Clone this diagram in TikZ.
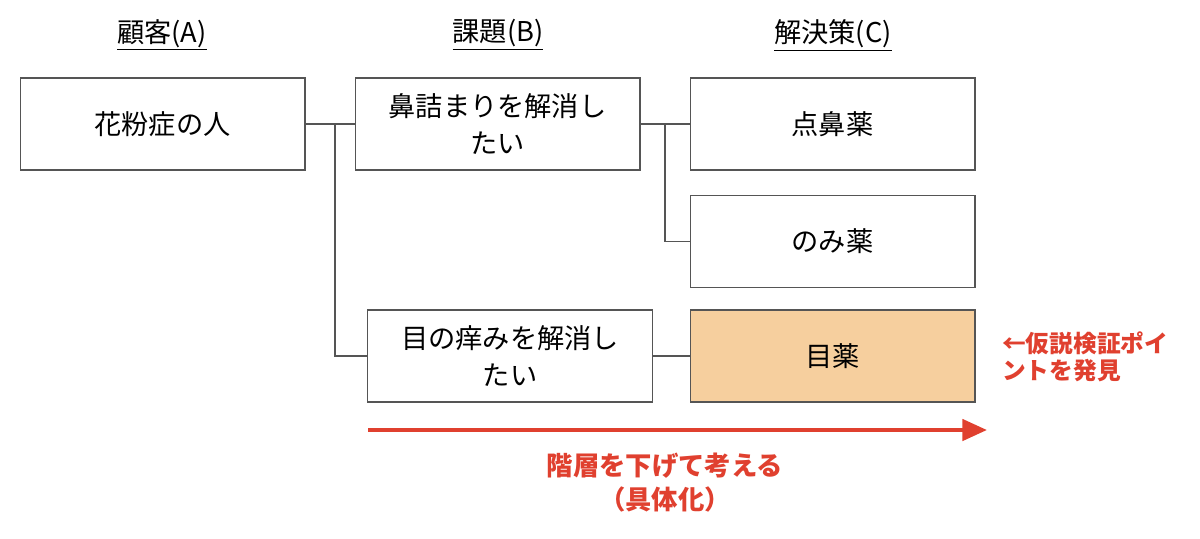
\documentclass[tikz,border=0pt]{standalone}
\usepackage{fontspec}
\setmainfont{Noto Sans CJK JP}
\usetikzlibrary{arrows.meta}
\definecolor{bx}{HTML}{555555}
\definecolor{rd}{HTML}{E0402F}
\definecolor{og}{HTML}{F6CF9E}
\begin{document}
\begin{tikzpicture}[x=0.02cm,y=-0.02cm,
 box/.style={draw=bx,line width=0.6pt,minimum width=5.7cm,minimum height=1.84cm,inner sep=0pt,align=center,font=\fontsize{15.5}{21}\selectfont},
 hd/.style={font=\fontsize{15.5}{18}\selectfont},
 ln/.style={draw=bx,line width=0.6pt},
 rt/.style={text=rd,font=\bfseries\fontsize{15}{19}\selectfont}]
\useasboundingbox (0,0) rectangle (1200,538);
\node[hd] (hA) at (162,35) {\underline{顧客(A)}};
\node[hd] (hB) at (498,35) {\underline{課題(B)}};
\node[hd] (hC) at (833,35) {\underline{解決策(C)}};
\node[box] (A) at (162.5,124) {花粉症の人};
\node[box] (B1) at (497.5,124) {鼻詰まりを解消し\\たい};
\node[box] (C1) at (832.5,124) {点鼻薬};
\node[box] (C2) at (832.5,241.5) {のみ薬};
\node[box] (B2) at (510,356) {目の痒みを解消し\\たい};
\node[box,fill=og] (C3) at (832.5,356) {目薬};
\coordinate (j1) at (335,124);
\coordinate (j2) at (665,124);
\draw[ln] (A.east) -- (B1.west);
\draw[ln] (j1) |- (B2.west);
\draw[ln] (B1.east) -- (C1.west);
\draw[ln] (j2) |- (C2.west);
\draw[ln] (B2.east) -- (C3.west);
\coordinate (a1) at (368,430);
\coordinate (a2) at (987,430);
\draw[rd,line width=2.4pt,-{Triangle[length=14pt,width=12pt]}] (a1) -- (a2);
\node[rt] (t1) at (665,466) {階層を下げて考える};
\node[rt] (t2) at (665,499) {（具体化）};
\node[rt,anchor=west,align=left,font=\bfseries\fontsize{13.5}{15.5}\selectfont] (t3) at (996,357) {←仮説検証ポイ\\ントを発見};
\end{tikzpicture}
\end{document}
